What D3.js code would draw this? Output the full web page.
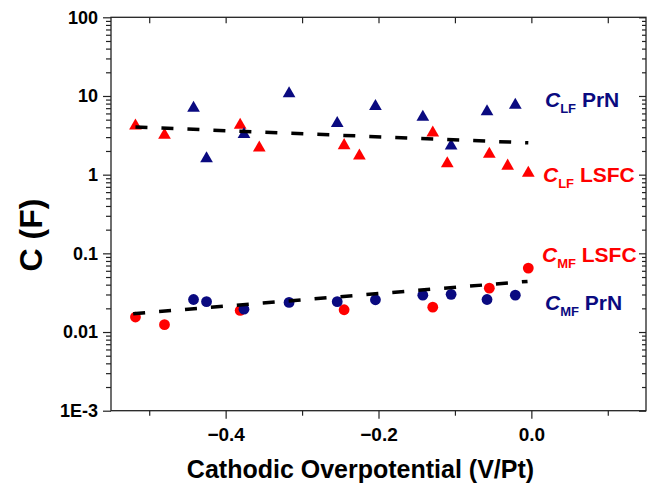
<!DOCTYPE html>
<html>
<head>
<meta charset="utf-8">
<script src="https://cdn.jsdelivr.net/npm/d3@7"></script>
<style>
  body { margin: 0; background: #fff; }
  text { font-family: "Liberation Sans", Arial, sans-serif; font-weight: bold; }
</style>
</head>
<body>
<div id="chart"></div>
<script>
// LSFC (red) and PrN (navy) capacitances vs overpotential
const lsfcLFx = [-0.518, -0.480, -0.381, -0.356, -0.245, -0.225, -0.129, -0.110, -0.055, -0.031, -0.004];
const lsfcLF  = [4.16, 3.19, 4.28, 2.19, 2.35, 1.73, 3.41, 1.38, 1.82, 1.29, 1.05];
const prnLFx  = [-0.442, -0.425, -0.376, -0.317, -0.254, -0.204, -0.142, -0.105, -0.058, -0.021];
const prnLF   = [7.0, 1.6, 3.26, 10.7, 4.5, 7.36, 5.38, 2.33, 6.35, 7.67];
const lsfcMFx = [-0.518, -0.480, -0.381, -0.245, -0.129, -0.055, -0.004];
const lsfcMF  = [0.0155, 0.0124, 0.0188, 0.0192, 0.0207, 0.0361, 0.065];
const prnMFx  = [-0.442, -0.425, -0.376, -0.317, -0.254, -0.204, -0.142, -0.105, -0.058, -0.021];
const prnMF   = [0.0259, 0.0243, 0.0195, 0.0238, 0.0243, 0.0257, 0.0294, 0.0301, 0.0259, 0.0294];

// dashed trend lines (end points)
const lfFitX = [-0.518, -0.004];
const lfFit  = [4.03, 2.54];
const mfFitX = [-0.521, -0.005];
const mfFit  = [0.0171, 0.044];

const xTicks = [-0.4, -0.2, 0.0];
const xMinor = [-0.5, -0.3, -0.1, 0.1];
const yTicks = [1e-3, 0.01, 0.1, 1, 10, 100];
const yTickLabels = ["1E-3", "0.01", "0.1", "1", "10", "100"];

const width = 654, height = 486;
const margin = { top: 17.3, right: 8, bottom: 75.3, left: 111 };
const red = "#ff0000", navy = "#0a0a80";

const svg = d3.select("#chart").append("svg")
  .attr("width", width)
  .attr("height", height);

const x = d3.scaleLinear()
  .domain([-0.55, 0.15])
  .range([margin.left, width - margin.right]);

const y = d3.scaleLog()
  .domain([1e-3, 100])
  .range([height - margin.bottom, margin.top]);

const yMinor = [];
for (let e = -3; e < 2; e++) for (let k = 2; k < 10; k++) yMinor.push(k * Math.pow(10, e));

const x0 = margin.left, x1 = width - margin.right;
const y0 = height - margin.bottom, y1 = margin.top;

function styleAxis(g) {
  g.select(".domain").remove();
  g.selectAll("line").attr("stroke", "#222").attr("stroke-width", 1.2);
}

// bottom axis
svg.append("g")
  .attr("transform", `translate(0,${y0})`)
  .call(d3.axisBottom(x).tickValues(xTicks).tickSize(8).tickPadding(9).tickFormat(d3.format(".1f")))
  .call(styleAxis)
  .selectAll("text")
  .attr("fill", "#000")
  .style("font-size", "19px");
svg.append("g")
  .attr("transform", `translate(0,${y0})`)
  .call(d3.axisBottom(x).tickValues(xMinor).tickSize(5).tickFormat(""))
  .call(styleAxis);

// top axis (inner ticks)
svg.append("g")
  .attr("transform", `translate(0,${y1})`)
  .call(d3.axisBottom(x).tickValues(xTicks.concat(xMinor)).tickSize(6).tickFormat(""))
  .call(styleAxis);

// left axis
svg.append("g")
  .attr("transform", `translate(${x0},0)`)
  .call(d3.axisLeft(y).tickValues(yTicks).tickSize(8).tickPadding(5)
    .tickFormat((d, i) => yTickLabels[i]))
  .call(styleAxis)
  .selectAll("text")
  .attr("fill", "#000")
  .style("font-size", "18px");
svg.append("g")
  .attr("transform", `translate(${x0},0)`)
  .call(d3.axisLeft(y).tickValues(yMinor).tickSize(5).tickFormat(""))
  .call(styleAxis);

// right axis (inner ticks)
svg.append("g")
  .attr("transform", `translate(${x1},0)`)
  .call(d3.axisLeft(y).tickValues(yTicks).tickSize(7).tickFormat(""))
  .call(styleAxis);
svg.append("g")
  .attr("transform", `translate(${x1},0)`)
  .call(d3.axisLeft(y).tickValues(yMinor).tickSize(4).tickFormat(""))
  .call(styleAxis);

// frame
svg.append("rect")
  .attr("x", x0).attr("y", y1)
  .attr("width", x1 - x0).attr("height", y0 - y1)
  .attr("fill", "none")
  .attr("stroke", "#222")
  .attr("stroke-width", 1.3);

// markers
const tri = d3.symbol().type(d3.symbolTriangle).size(70);

function triangles(xs, vs, color) {
  svg.append("g")
    .attr("fill", color)
    .selectAll("path")
    .data(xs.map((d, i) => [d, vs[i]]))
    .join("path")
    .attr("d", tri)
    .attr("transform", d => `translate(${x(d[0])},${y(d[1])})`);
}

function circles(xs, vs, color) {
  svg.append("g")
    .attr("fill", color)
    .selectAll("circle")
    .data(xs.map((d, i) => [d, vs[i]]))
    .join("circle")
    .attr("cx", d => x(d[0]))
    .attr("cy", d => y(d[1]))
    .attr("r", 5.4);
}

triangles(lsfcLFx, lsfcLF, red);
triangles(prnLFx, prnLF, navy);
circles(lsfcMFx, lsfcMF, red);
circles(prnMFx, prnMF, navy);

// fit lines
const line = d3.line().x(d => x(d[0])).y(d => y(d[1]));
[[lfFitX, lfFit], [mfFitX, mfFit]].forEach(([xs, vs]) => {
  svg.append("path")
    .datum(xs.map((d, i) => [d, vs[i]]))
    .attr("d", line)
    .attr("fill", "none")
    .attr("stroke", "#000")
    .attr("stroke-width", 3.5)
    .attr("stroke-dasharray", "12,14");
});

// series labels
const labels = [
  { sub: "LF", name: "PrN", color: navy, x: 545, y: 107 },
  { sub: "LF", name: "LSFC", color: red, x: 543, y: 182 },
  { sub: "MF", name: "LSFC", color: red, x: 542, y: 262 },
  { sub: "MF", name: "PrN", color: navy, x: 545, y: 310 }
];
labels.forEach(l => {
  const t = svg.append("text")
    .attr("x", l.x).attr("y", l.y)
    .attr("fill", l.color)
    .style("font-size", "21px");
  t.append("tspan").style("font-style", "italic").text("C");
  t.append("tspan").attr("dy", 6).style("font-size", "13px").text(l.sub);
  t.append("tspan").attr("dy", -6).text(" " + l.name);
});

// axis titles
svg.append("text")
  .attr("x", (x0 + x1) / 2 - 18)
  .attr("y", 478)
  .attr("text-anchor", "middle")
  .style("font-size", "25px")
  .text("Cathodic Overpotential (V/Pt)");

svg.append("text")
  .attr("transform", "translate(42,235) rotate(-90)")
  .attr("text-anchor", "middle")
  .style("font-size", "32px")
  .text("C (F)");
</script>
</body>
</html>
